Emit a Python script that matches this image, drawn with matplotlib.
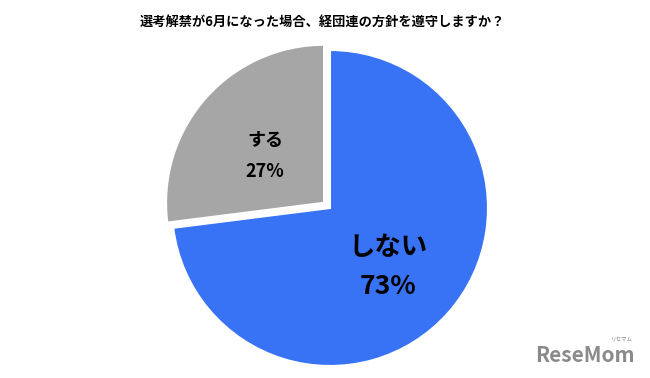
import matplotlib
matplotlib.use("Agg")
import matplotlib.pyplot as plt

plt.rcParams["font.family"] = ["Noto Sans CJK JP", "DejaVu Sans"]

title = "選考解禁が6月になった場合、経団連の方針を遵守しますか？"
labels = ["しない", "する"]
values = [73, 27]
colors = ["#3873F5", "#A6A6A6"]
explode = [0.0, 0.05]

fig = plt.figure(figsize=(6.5, 3.78), dpi=100)
lim = 170 / 158
ax = fig.add_axes([160 / 650, 0.0, 340 / 650, 340 / 378])

wedges, _ = ax.pie(
    values,
    colors=colors,
    explode=explode,
    startangle=90,
    counterclock=False,
    wedgeprops={"edgecolor": "white", "linewidth": 1.5},
)
ax.set_xlim(-lim, lim)
ax.set_ylim(-lim, lim)
ax.set_aspect("equal")

# labels inside slices
ax.text(0.37, -0.25, labels[0], ha="center", va="center", fontsize=19, fontweight="bold")
ax.text(0.37, -0.50, f"{values[0]}%", ha="center", va="center", fontsize=19, fontweight="bold")
ax.text(-0.41, 0.43, labels[1], ha="center", va="center", fontsize=13, fontweight="bold")
ax.text(-0.41, 0.23, f"{values[1]}%", ha="center", va="center", fontsize=13, fontweight="bold")

fig.text(322 / 650, 1 - 22 / 378, title, ha="center", va="center", fontsize=9.5, fontweight="bold")

# watermark
fig.text(585 / 650, 1 - 356 / 378, "ReseMom", ha="center", va="center", fontsize=15,
         fontweight="bold", color="#8a8a8a")
fig.text(622 / 650, 1 - 340 / 378, "リセマム", ha="center", va="center", fontsize=4,
         color="#8a8a8a")

fig.savefig("out.png", dpi=100)
